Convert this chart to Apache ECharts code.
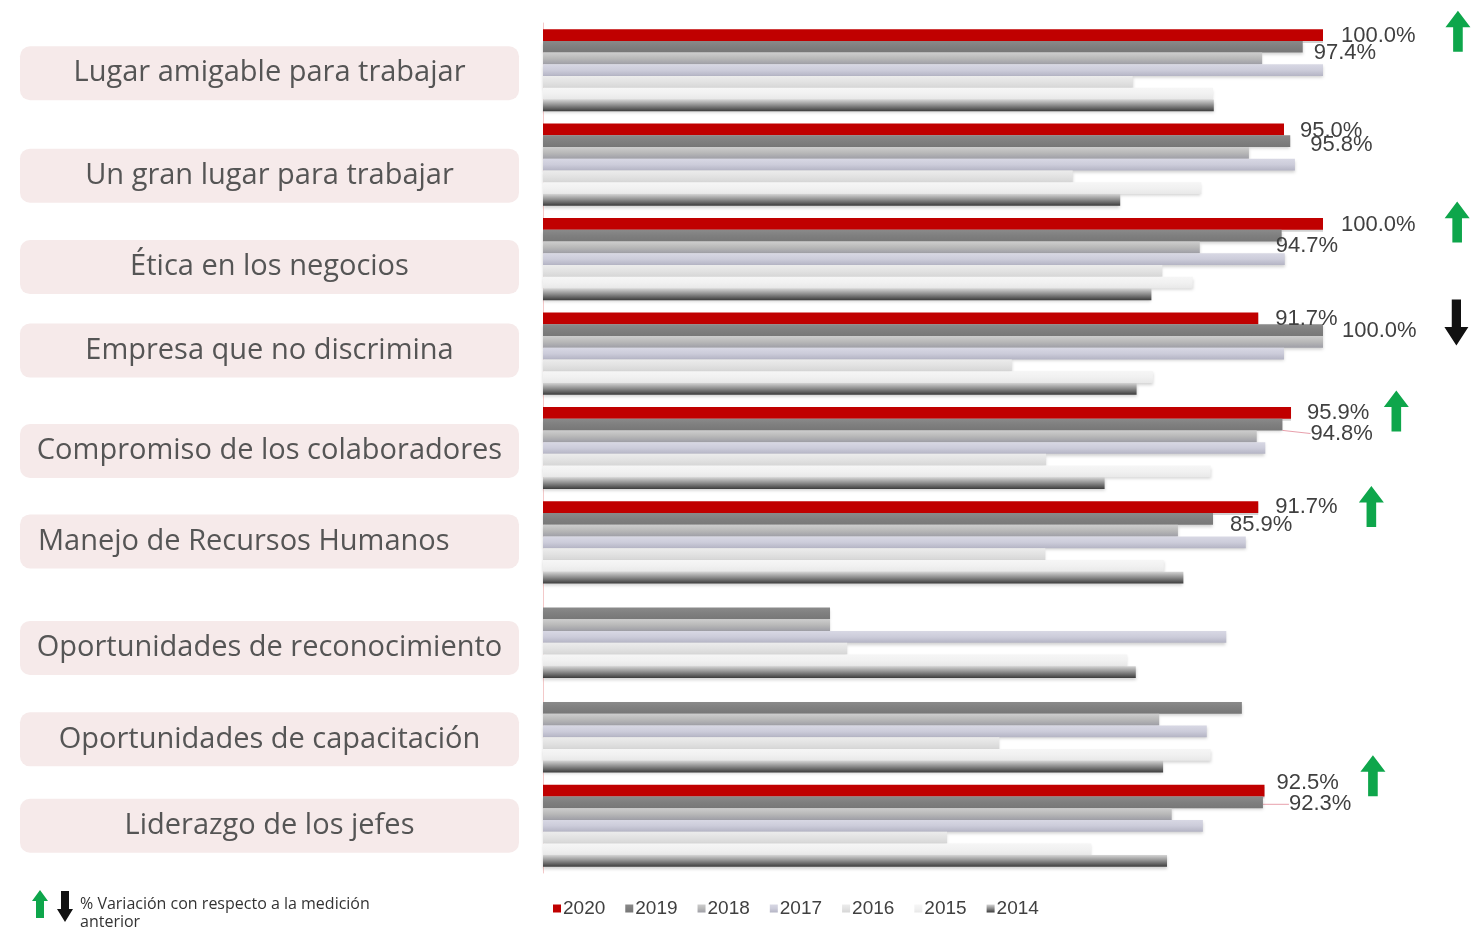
<!DOCTYPE html>
<html>
<head>
<meta charset="utf-8">
<title>Clima laboral 2014-2020</title>
<script src="https://cdn.jsdelivr.net/npm/echarts@6/dist/echarts.min.js"></script>
<style>
  html, body { margin: 0; padding: 0; background: #ffffff; }
  #chart { width: 1479px; height: 928px; }
</style>
</head>
<body>
<div id="chart"></div>
<script>
// datos
var categories = [
  "Lugar amigable para trabajar",
  "Un gran lugar para trabajar",
  "Ética en los negocios",
  "Empresa que no discrimina",
  "Compromiso de los colaboradores",
  "Manejo de Recursos Humanos",
  "Oportunidades de reconocimiento",
  "Oportunidades de capacitación",
  "Liderazgo de los jefes"
];
var years = ["2020", "2019", "2018", "2017", "2016", "2015", "2014"];
var v2020 = [100.0, 95.0, 100.0, 91.7, 95.9, 91.7, null, null, 92.5];
var v2019 = [97.4, 95.8, 94.7, 100.0, 94.8, 85.9, 36.8, 89.6, 92.3];
var v2018 = [92.2, 90.5, 84.2, 100.0, 91.5, 81.4, 36.8, 79.0, 80.6];
var v2017 = [100.0, 96.4, 95.1, 95.0, 92.6, 90.1, 87.6, 85.1, 84.6];
var v2016 = [75.6, 67.9, 79.4, 60.1, 64.5, 64.4, 39.0, 58.5, 51.8];
var v2015 = [85.9, 84.4, 83.3, 78.2, 85.6, 79.6, 74.9, 85.6, 70.3];
var v2014 = [86.0, 74.0, 78.0, 76.1, 72.0, 82.1, 76.0, 79.5, 80.0];
// variacion respecto a la medicion anterior
var trend = ["up", null, "up", "down", "up", "up", null, null, "up"];
var labelled = [true, true, true, true, true, true, false, false, true];

// --- layout / estilos ---
var chart = echarts.init(document.getElementById("chart"));

function grad(stops) {
  return {
    type: "linear", x: 0, y: 0, x2: 0, y2: 1,
    colorStops: stops.map(function (c, i) { return { offset: i / (stops.length - 1), color: c }; })
  };
}
var colors = [
  "#C00000",
  grad(["#8a8a8a", "#7f7f7f", "#777777"]),
  grad(["#cdcdcd", "#b8b8b8", "#9e9ea6"]),
  grad(["#d8d8e4", "#ccccda", "#b4b4c4"]),
  grad(["#ececec", "#e2e2e2", "#d6d6d6"]),
  grad(["#f6f6f6", "#f1f1f1", "#e8e8e8"]),
  grad(["#d4d4d4", "#8a8a8a", "#3c3c3c"])
];
var values = [v2020, v2019, v2018, v2017, v2016, v2015, v2014];

// desplazamiento manual de etiquetas [dx, dy] (2020, 2019)
var nudge = [
  [[13, 1], [11, 1], [13, 1], [12, 1], [11, 0], [12, 0], null, null, [7, -8]],
  [[6, 6], [15, 4], [-11, 10], [14, 1], [23, 9], [12, 6], null, null, [21, 2]]
];
var leader = [[], [4, 8]];

var series = years.map(function (y, s) {
  var data = values[s].map(function (v, i) {
    var item = { value: v };
    if (s < 2 && labelled[i] && v != null) {
      item.label = { show: true };
      if (leader[s].indexOf(i) >= 0) {
        item.labelLine = { show: true, lineStyle: { color: "#e8a0ac", width: 1 } };
      }
    }
    return item;
  });
  return {
    name: y,
    type: "bar",
    barGap: "0%",
    barCategoryGap: "13%",
    data: data,
    itemStyle: {
      color: colors[s],
      shadowBlur: s === 0 ? 0 : 3,
      shadowOffsetY: 2,
      shadowColor: "rgba(0,0,0,0.18)"
    },
    label: {
      show: false,
      position: "right",
      distance: 5,
      color: "#404040",
      fontSize: 22,
      fontFamily: "Liberation Sans, Arial",
      formatter: function (p) { return p.value.toFixed(1) + "%"; }
    },
    labelLayout: s < 2 ? function (p) {
      var n = nudge[s][p.dataIndex];
      return n ? { dx: n[0], dy: n[1] } : {};
    } : undefined,
    animation: false
  };
});

// flechas de variacion
var arrowX = [117.3, null, 117.2, 117.1, 109.4, 106.2, null, null, 106.4];
var arrowDy = [-39, 0, -37, -31, -37, -36, 0, 0, -50];
var arrowPath = "path://M13,0 L26,17 L18,17 L18,42 L8,42 L8,17 L0,17 Z";
var arrowData = [];
trend.forEach(function (t, i) {
  if (!t) return;
  arrowData.push({
    value: [arrowX[i], i],
    symbolOffset: [0, arrowDy[i]],
    symbolRotate: t === "down" ? 180 : 0,
    symbolSize: t === "down" ? [24, 46] : [25, 41],
    itemStyle: { color: t === "down" ? "#111111" : "#0ea64b", opacity: 1 }
  });
});
series.push({
  type: "scatter",
  symbol: arrowPath,
  data: arrowData,
  itemStyle: { opacity: 1 },
  silent: true,
  animation: false,
  z: 5
});

// cajas de categoria: desplazamiento vertical de cada caja (px)
var boxShift = [3, 11, 8, -3, 3, -1, 11, 8, 0];
var boxFont = { fontSize: 29, color: "#555555", fontFamily: "Open Sans" };
var rich = {
  c: Object.assign({ width: 499, height: 54, align: "center", backgroundColor: "#f6eaea", borderRadius: 10 }, boxFont),
  l: Object.assign({ width: 481, height: 54, align: "left", padding: [0, 0, 0, 18], backgroundColor: "#f6eaea", borderRadius: 10 }, boxFont)
};
boxShift.forEach(function (d) {
  if (d !== 0) rich["s" + Math.abs(d)] = { height: Math.abs(d) * 2, fontSize: 1, lineHeight: Math.abs(d) * 2 };
});

var option = {
  backgroundColor: "#ffffff",
  animation: false,
  grid: { left: 543, right: 0, top: 23, bottom: 55 },
  legend: {
    data: years,
    left: 548,
    top: 894,
    icon: "rect",
    itemWidth: 8,
    itemHeight: 8,
    itemGap: 20,
    textStyle: { color: "#404040", fontSize: 19, fontFamily: "Liberation Sans, Arial", padding: [0, 0, 0, -3] }
  },
  xAxis: {
    type: "value",
    min: 0,
    max: 120,
    show: false,
    splitLine: { show: false }
  },
  yAxis: {
    type: "category",
    data: categories,
    inverse: true,
    axisLine: { show: true, lineStyle: { color: "#f3c9c9", width: 1 } },
    axisTick: { show: false },
    axisLabel: {
      margin: 24,
      formatter: function (name, i) {
        var box = (name === "Manejo de Recursos Humanos" ? "{l|" : "{c|") + name + "}";
        var d = boxShift[i];
        if (d > 0) return "{s" + d + "| }\n" + box;
        if (d < 0) return box + "\n{s" + (-d) + "| }";
        return box;
      },
      rich: rich
    }
  },
  graphic: [
    {
      type: "polygon",
      shape: { points: [[40, 890], [48, 901], [44, 901], [44, 918], [36, 918], [36, 901], [32, 901]] },
      style: { fill: "#0ea64b" }
    },
    {
      type: "polygon",
      shape: { points: [[65, 922], [73, 909], [69, 909], [69, 891], [61, 891], [61, 909], [57, 909]] },
      style: { fill: "#111111" }
    },
    {
      type: "text",
      left: 80,
      top: 895,
      style: {
        text: "% Variación con respecto a la medición\nanterior",
        font: '16px "Open Sans"',
        lineHeight: 18,
        fill: "#333333"
      }
    }
  ],
  series: series
};

chart.setOption(option);
</script>
</body>
</html>
